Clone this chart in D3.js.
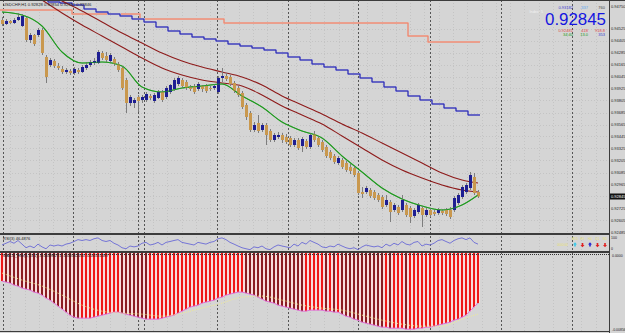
<!DOCTYPE html>
<html><head><meta charset="utf-8">
<script src="https://cdn.jsdelivr.net/npm/d3@7"></script>
<style>
html,body{margin:0;padding:0;background:#d5d5d5;overflow:hidden}
svg{display:block;font-family:"Liberation Sans",Arial,sans-serif}
</style></head><body>
<svg width="625" height="333"></svg>
<script>
// USDCHF H1 candles, one per bar (oldest first)
const opens = [0.9461,0.9457,0.9460,0.9458,0.9461,0.9455,0.9463,0.9441,0.9446,0.9446,
0.9451,0.9424,0.9416,0.9420,0.9415,0.9412,0.9409,0.9410,0.9408,0.9411,
0.9409,0.9413,0.9416,0.9418,0.9418,0.9428,0.9425,0.9420,0.9422,0.9417,
0.9413,0.9401,0.9378,0.9378,0.9384,0.9381,0.9381,0.9385,0.9380,0.9383,
0.9389,0.9384,0.9389,0.9392,0.9397,0.9401,0.9399,0.9394,0.9395,0.9392,
0.9395,0.9395,0.9393,0.9393,0.9389,0.9403,0.9405,0.9404,0.9398,0.9393,
0.9388,0.9376,0.9368,0.9351,0.9358,0.9351,0.9356,0.9350,0.9341,0.9344,
0.9346,0.9344,0.9343,0.9336,0.9341,0.9335,0.9340,0.9334,0.9347,0.9343,
0.9339,0.9334,0.9329,0.9325,0.9318,0.9321,0.9318,0.9314,0.9313,0.9308,
0.9289,0.9289,0.9291,0.9289,0.9286,0.9284,0.9276,0.9279,0.9271,0.9274,
0.9271,0.9276,0.9273,0.9265,0.9269,0.9273,0.9266,0.9271,0.9269,0.9268,
0.9270,0.9271,0.9271,0.9271,0.9278,0.9284,0.9289,0.9293,0.9304,0.9289];
const highs = [0.9464,0.9462,0.9461,0.9463,0.9468,0.9467,0.9464,0.9448,0.9447,0.9453,
0.9453,0.9426,0.9423,0.9422,0.9418,0.9415,0.9413,0.9412,0.9414,0.9413,
0.9416,0.9419,0.9421,0.9423,0.9431,0.9430,0.9429,0.9428,0.9424,0.9419,
0.9415,0.9403,0.9386,0.9383,0.9386,0.9386,0.9389,0.9387,0.9388,0.9391,
0.9391,0.9395,0.9397,0.9403,0.9405,0.9403,0.9401,0.9396,0.9397,0.9399,
0.9396,0.9397,0.9395,0.9397,0.9405,0.9413,0.9408,0.9406,0.9400,0.9395,
0.9390,0.9378,0.9370,0.9359,0.9366,0.9358,0.9358,0.9352,0.9348,0.9349,
0.9348,0.9347,0.9345,0.9343,0.9343,0.9344,0.9342,0.9348,0.9350,0.9345,
0.9341,0.9336,0.9331,0.9327,0.9325,0.9323,0.9320,0.9317,0.9315,0.9310,
0.9294,0.9295,0.9293,0.9291,0.9288,0.9286,0.9286,0.9281,0.9278,0.9276,
0.9286,0.9278,0.9275,0.9273,0.9278,0.9275,0.9273,0.9273,0.9271,0.9273,
0.9272,0.9273,0.9274,0.9285,0.9288,0.9296,0.9298,0.9309,0.9308,0.9291];
const lows = [0.9455,0.9456,0.9457,0.9457,0.9460,0.9454,0.9439,0.9438,0.9435,0.9444,
0.9426,0.9398,0.9414,0.9413,0.9411,0.9407,0.9407,0.9406,0.9406,0.9407,
0.9408,0.9411,0.9414,0.9416,0.9417,0.9421,0.9419,0.9418,0.9415,0.9409,
0.9391,0.9368,0.9375,0.9373,0.9369,0.9378,0.9379,0.9381,0.9378,0.9382,
0.9379,0.9382,0.9387,0.9390,0.9395,0.9393,0.9391,0.9390,0.9387,0.9390,
0.9389,0.9388,0.9390,0.9391,0.9387,0.9399,0.9400,0.9395,0.9388,0.9384,
0.9372,0.9361,0.9349,0.9349,0.9348,0.9349,0.9336,0.9339,0.9339,0.9342,
0.9338,0.9337,0.9334,0.9334,0.9331,0.9329,0.9332,0.9332,0.9339,0.9334,
0.9329,0.9323,0.9321,0.9317,0.9316,0.9312,0.9309,0.9307,0.9304,0.9286,
0.9283,0.9287,0.9283,0.9281,0.9279,0.9272,0.9274,0.9259,0.9269,0.9266,
0.9269,0.9264,0.9258,0.9263,0.9267,0.9254,0.9264,0.9264,0.9265,0.9266,
0.9266,0.9265,0.9262,0.9269,0.9276,0.9282,0.9287,0.9291,0.9286,0.9283];
const closes = [0.9457,0.9460,0.9458,0.9461,0.9464,0.9465,0.9441,0.9446,0.9437,0.9451,
0.9428,0.9404,0.9421,0.9415,0.9413,0.9409,0.9411,0.9408,0.9412,0.9409,
0.9414,0.9416,0.9419,0.9420,0.9429,0.9423,0.9421,0.9426,0.9417,0.9411,
0.9393,0.9378,0.9384,0.9381,0.9380,0.9384,0.9387,0.9383,0.9386,0.9389,
0.9381,0.9393,0.9396,0.9401,0.9403,0.9395,0.9393,0.9392,0.9389,0.9397,
0.9392,0.9390,0.9392,0.9395,0.9403,0.9405,0.9402,0.9397,0.9390,0.9386,
0.9374,0.9364,0.9351,0.9356,0.9350,0.9356,0.9346,0.9341,0.9346,0.9346,
0.9341,0.9339,0.9336,0.9341,0.9333,0.9342,0.9334,0.9346,0.9341,0.9336,
0.9331,0.9325,0.9323,0.9319,0.9323,0.9314,0.9311,0.9310,0.9306,0.9288,
0.9287,0.9293,0.9285,0.9283,0.9281,0.9274,0.9281,0.9269,0.9276,0.9268,
0.9281,0.9266,0.9264,0.9271,0.9276,0.9266,0.9271,0.9266,0.9267,0.9271,
0.9268,0.9267,0.9264,0.9283,0.9286,0.9294,0.9296,0.9306,0.9288,0.92845];

// moving averages, sampled every 5 bars
const maBars = [0,5,10,15,20,25,30,35,40,45,50,55,60,65,70,75,80,85,90,95,100,105,110,115,119];
const maFast = [0.9469,0.9466,0.9455,0.9429,0.9418,0.9419,0.9415,0.9394,0.9389,0.9393,0.9395,0.9397,0.9385,
  0.9374,0.9359,0.9350,0.9343,0.9325,0.9309,0.9293,0.9282,0.9275,0.9271,0.9276,0.9286];
const maMid = [0.9509,0.9499,0.9490,0.9480,0.9470,0.9459,0.9448,0.9438,0.9428,0.9420,0.9414,0.9409,0.9404,
  0.9396,0.9385,0.9376,0.9367,0.9357,0.9348,0.9338,0.9328,0.9318,0.9308,0.9301,0.9298];
const maSlow = [0.9506,0.9493,0.9481,0.9468,0.9456,0.9445,0.9434,0.9423,0.9413,0.9406,0.9401,0.9398,0.9395,
  0.9386,0.9375,0.9366,0.9357,0.9345,0.9333,0.9321,0.9311,0.9303,0.9296,0.9291,0.9289];

// higher timeframe average, one level per 3 bars
const htfLevels = [0.9489,0.9487,0.9484,0.9481,0.9479,0.9478,0.9476,0.9472,0.9469,0.9467,
  0.9465,0.9462,0.9459,0.9454,0.9450,0.9447,0.9444,0.9442,0.9440,0.9437,
  0.9435,0.9433,0.9431,0.9428,0.9424,0.9421,0.9417,0.9414,0.9411,0.9407,
  0.9403,0.9399,0.9394,0.9390,0.9385,0.9381,0.9377,0.9373,0.9370,0.9366];

// daily level (salmon line)
const levelStart = [0, 18, 35, 56, 102, 107];
const levelValue = [0.9471, 0.9467, 0.9462, 0.9458, 0.9445, 0.9439];

const priceTicks = [0.92485,0.92605,0.92725,0.92845,0.92965,0.93085,0.93205,0.93325,0.93445,
  0.93565,0.93685,0.93805,0.93925,0.94045,0.94165,0.94285,0.94405,0.94525];
const priceTop = 0.94750;

// RSI(3)
const rsi = [38,50,62,50,69,44,19,31,19,44, 25,12,38,31,38,31,44,50,62,75,
  69,75,69,81,87,69,62,69,50,38, 19,12,31,25,31,50,56,38,44,56,
  38,56,62,69,75,56,50,44,38,56, 50,44,56,62,81,87,75,56,44,31,
  19,12,6,25,19,31,12,6,25,38, 31,25,19,44,31,56,44,69,56,44,
  25,19,31,25,44,31,19,12,19,6, 25,38,31,25,31,19,44,31,50,38,
  62,44,38,56,62,31,44,38,50,69, 75,62,50,69,81,87,75,87,56,44];

// histogram window
const hist = [-0.00308,-0.00319,-0.00330,-0.00352,-0.00363,-0.00385,-0.00396,-0.00407,-0.00429,-0.00440,
-0.00462,-0.00495,-0.00517,-0.00550,-0.00583,-0.00616,-0.00649,-0.00682,-0.00704,-0.00715,
-0.00715,-0.00715,-0.00715,-0.00704,-0.00693,-0.00682,-0.00671,-0.00660,-0.00649,-0.00649,
-0.00660,-0.00671,-0.00682,-0.00693,-0.00704,-0.00715,-0.00726,-0.00726,-0.00726,-0.00726,
-0.00715,-0.00704,-0.00693,-0.00682,-0.00660,-0.00638,-0.00616,-0.00594,-0.00583,-0.00572,
-0.00550,-0.00539,-0.00528,-0.00517,-0.00495,-0.00484,-0.00462,-0.00451,-0.00440,-0.00429,
-0.00429,-0.00440,-0.00451,-0.00462,-0.00484,-0.00506,-0.00528,-0.00539,-0.00550,-0.00572,
-0.00583,-0.00594,-0.00605,-0.00616,-0.00627,-0.00638,-0.00638,-0.00627,-0.00627,-0.00627,
-0.00627,-0.00638,-0.00638,-0.00649,-0.00649,-0.00671,-0.00693,-0.00704,-0.00726,-0.00737,
-0.00759,-0.00770,-0.00781,-0.00792,-0.00803,-0.00814,-0.00814,-0.00825,-0.00825,-0.00825,
-0.00825,-0.00836,-0.00836,-0.00836,-0.00825,-0.00825,-0.00814,-0.00814,-0.00803,-0.00792,
-0.00781,-0.00770,-0.00759,-0.00737,-0.00726,-0.00704,-0.00682,-0.00638,-0.00594,-0.00550];
const signal = [-0.00220,-0.00297,-0.00363,-0.00462,-0.00572,-0.00638,-0.00660,-0.00671,-0.00693,-0.00660,
  -0.00605,-0.00550,-0.00484,-0.00473,-0.00517,-0.00572,-0.00605,-0.00627,-0.00682,-0.00737,
  -0.00781,-0.00803,-0.00803,-0.00726,-0.00671];

// period separators, in bars
const separators = [0.25, 17.75, 34, 35.5, 53.75, 71.5, 89, 107, 124.75, 142.5];

const svg = d3.select("svg");
const W = 625, H = 333, axisX = 609;
const mainB = 233, rsiT = 235, rsiB = 251, histT = 253, histB = 331;

const x = d3.scaleLinear().domain([0, 119]).range([2, 478]);
const y = d3.scaleLinear().domain([0.9248, 0.9481]).range([mainB, 0]);
const yRsi = d3.scaleLinear().domain([0, 100]).range([rsiB - 0.5, rsiT + 1]);
const yHist = d3.scaleLinear().domain([-0.00856, 0]).range([histB, histT]);

svg.append("rect").attr("width", W).attr("height", H).attr("fill", "#d5d5d5");

const defs = svg.append("defs");
function clip(id, top, bottom) {
  defs.append("clipPath").attr("id", id).append("rect")
    .attr("x", 0).attr("y", top).attr("width", axisX).attr("height", bottom - top);
}
clip("cMain", 0, mainB); clip("cRsi", rsiT, rsiB); clip("cHist", histT, histB);

// grid
const grid = svg.append("g");
grid.selectAll("line.h").data(priceTicks).enter().append("line")
  .attr("x1", 0).attr("x2", axisX)
  .attr("y1", d => Math.round(y(d)) + 0.5).attr("y2", d => Math.round(y(d)) + 0.5)
  .attr("stroke", "#c4c4c4").attr("stroke-dasharray", "1,2");
const vgrid = d3.range(-1.5, 150, 3.57);
grid.selectAll("line.v").data(vgrid).enter().append("line")
  .attr("x1", d => Math.round(x(d)) + 0.5).attr("x2", d => Math.round(x(d)) + 0.5)
  .attr("y1", 0).attr("y2", histB)
  .attr("stroke", "#c4c4c4").attr("stroke-dasharray", "1,2");
grid.selectAll("line.s").data(separators).enter().append("line")
  .attr("x1", d => Math.round(x(d)) + 0.5).attr("x2", d => Math.round(x(d)) + 0.5)
  .attr("y1", 0).attr("y2", histB)
  .attr("stroke", "#555").attr("stroke-dasharray", "2,2");

// main window
const gMain = svg.append("g").attr("clip-path", "url(#cMain)");

const stepLine = d3.line().x(d => d[0]).y(d => y(d[1])).curve(d3.curveStepAfter);
const lvlPts = levelStart.map((b, k) => [x(b) - 2, levelValue[k]]);
lvlPts.push([x(120) - 2, levelValue[levelValue.length - 1]]);
gMain.append("path").attr("d", stepLine(lvlPts)).attr("fill", "none")
  .attr("stroke", "#efb8aa").attr("stroke-width", 1.8);
gMain.append("path").attr("d", stepLine(lvlPts)).attr("fill", "none")
  .attr("stroke", "#e5806a").attr("stroke-width", 0.9);

const htfPts = htfLevels.map((v, k) => [x(3 * k) - 2, v]);
htfPts.push([x(120) - 2, htfLevels[htfLevels.length - 1]]);
gMain.append("path").attr("d", stepLine(htfPts)).attr("fill", "none")
  .attr("stroke", "#aaaae4").attr("stroke-width", 1.9);
gMain.append("path").attr("d", stepLine(htfPts)).attr("fill", "none")
  .attr("stroke", "#2020a4").attr("stroke-width", 1);

const maLine = d3.line().x((d, k) => x(maBars[k])).y(d => y(d)).curve(d3.curveMonotoneX);
[[maMid, "#8e1b1b"], [maSlow, "#8e1b1b"], [maFast, "#1f9a1f"]].forEach(([s, c]) => {
  gMain.append("path").attr("d", maLine(s)).attr("fill", "none")
    .attr("stroke", c).attr("stroke-width", 1.1);
});

const candles = gMain.append("g");
d3.range(closes.length).forEach(i => {
  const cx = Math.round(x(i));
  const up = closes[i] >= opens[i];
  candles.append("line")
    .attr("x1", cx + 0.5).attr("x2", cx + 0.5)
    .attr("y1", y(highs[i])).attr("y2", y(lows[i]))
    .attr("stroke", "#7d7d7d").attr("stroke-width", 1);
  const top = y(Math.max(opens[i], closes[i]));
  const bot = y(Math.min(opens[i], closes[i]));
  candles.append("rect")
    .attr("x", cx - 1).attr("y", top).attr("width", 3).attr("height", Math.max(1, bot - top))
    .attr("fill", up ? "#1e1e92" : "#c9984e");
});

// fast MA again over the candles, thin
gMain.append("path").attr("d", maLine(maFast)).attr("fill", "none")
  .attr("stroke", "#1f9a1f").attr("stroke-width", 0.8).attr("opacity", 0.8);

// header text
svg.append("text").attr("x", 3).attr("y", 6).attr("font-size", 4.2).attr("fill", "#222")
  .text("USDCHF,H1  0.92828 0.92854 0.92811 0.92846");

// info panel
function t(xp, yp, s, c, fs, anchor) {
  return svg.append("text").attr("x", xp).attr("y", yp).attr("font-size", fs || 4)
    .attr("fill", c).attr("text-anchor", anchor || "end").text(s);
}
t(573, 9, "0.93182", "#3a3ad0");
t(588, 9, "-337", "#5aa6f0");
t(605, 9, "760", "#444");
t(543, 13, "Index: 5", "#f2f2f2", 3.8);
svg.append("text").attr("x", 545).attr("y", 24.6).attr("font-size", 16.3)
  .attr("textLength", 61).attr("lengthAdjust", "spacingAndGlyphs")
  .attr("fill", "#1515e0").text("0.92845");
t(573, 31.6, "0.92481", "#e04848");
t(588, 31.6, "418", "#e04848");
t(605, 31.6, "918.8", "#e04848");
t(573, 36.3, "34:40", "#239a23");
t(588, 36.3, "13.0", "#239a23");
t(605, 36.3, "353", "#3a3ad0");

// right price axis
const axis = svg.append("g").attr("font-size", 4).attr("fill", "#222");
axis.selectAll("text").data(priceTicks).enter().append("text")
  .attr("x", 611).attr("y", d => y(d) + 1.5).text(d => d3.format(".5f")(d));
axis.append("text").attr("x", 611).attr("y", y(priceTop) + 1.5).text(d3.format(".5f")(priceTop));
const last = closes[closes.length - 1];
svg.append("rect").attr("x", 609.5).attr("y", y(last) - 3).attr("width", 15.5).attr("height", 6).attr("fill", "#111");
svg.append("text").attr("x", 611).attr("y", y(last) + 1.6).attr("font-size", 4).attr("fill", "#fff")
  .text(d3.format(".5f")(last));

// RSI window
const gRsi = svg.append("g").attr("clip-path", "url(#cRsi)");
gRsi.append("path")
  .attr("d", d3.line().x((d, i) => x(i)).y(d => yRsi(d))(rsi))
  .attr("fill", "none").attr("stroke", "#6a6ad6").attr("stroke-width", 0.9);
svg.append("text").attr("x", 3).attr("y", 240).attr("font-size", 4).attr("fill", "#222")
  .text("RSI(3) 46.4876");

const tfLabels = ["M15", "H1", "H4", "D1", "W1"];
const tfColors = ["#3cc8e8", "#e02020", "#2424d0", "#e02020", "#e02020"];
const tfUp = [true, false, true, false, false];
tfLabels.forEach((s, k) => {
  const ax = 575 + k * 7.5;
  svg.append("text").attr("x", ax).attr("y", 240).attr("font-size", 3).attr("fill", "#e8e070")
    .attr("text-anchor", "middle").text(s);
  svg.append("path").attr("transform", `translate(${ax},${tfUp[k] ? 244.5 : 245}) rotate(${tfUp[k] ? 0 : 180})`)
    .attr("d", "M0,-2.2L2,0H0.8V2H-0.8V0H-2Z").attr("fill", tfColors[k]);
});
svg.append("text").attr("x", 568).attr("y", 245.5).attr("font-size", 3).attr("fill", "#e8e070")
  .attr("text-anchor", "end").text("0000:00");
svg.append("text").attr("x", 611).attr("y", 239).attr("font-size", 3.5).attr("fill", "#222").text("100");
svg.append("text").attr("x", 611).attr("y", 250).attr("font-size", 3.5).attr("fill", "#222").text("0");

// histogram window
const gHist = svg.append("g").attr("clip-path", "url(#cHist)");
hist.forEach((v, i) => {
  const cx = Math.round(x(i));
  const deeper = i > 0 && v < hist[i - 1];
  gHist.append("rect").attr("x", cx - 2).attr("y", yHist(0)).attr("width", 4)
    .attr("height", yHist(v) - yHist(0)).attr("fill", "#f8dcdc");
  gHist.append("rect").attr("x", cx - 1).attr("y", yHist(0)).attr("width", 2)
    .attr("height", yHist(v) - yHist(0)).attr("fill", deeper ? "#8a1c22" : "#ee1818");
});
gHist.append("path")
  .attr("d", d3.line().x((d, i) => x(i)).y(d => yHist(d))(hist))
  .attr("fill", "none").attr("stroke", "#e070d8").attr("stroke-width", 1);
gHist.append("path")
  .attr("d", d3.line().x((d, k) => x(maBars[k])).y(d => yHist(d)).curve(d3.curveMonotoneX)(signal))
  .attr("fill", "none").attr("stroke", "#f0ec90").attr("stroke-width", 0.9).attr("stroke-dasharray", "1,1");
svg.append("line").attr("x1", 0).attr("x2", axisX).attr("y1", histT + 1.5).attr("y2", histT + 1.5)
  .attr("stroke", "#333").attr("stroke-dasharray", "1,1");
svg.append("text").attr("x", 3).attr("y", 257).attr("font-size", 4).attr("fill", "#222")
  .text("MACD_Hist(5,13,1) -0.00498271 -0.00562105 -0.00531487");
svg.append("text").attr("x", 612).attr("y", 256.5).attr("font-size", 3.5).attr("fill", "#222").text("0.0000");
svg.append("text").attr("x", 612).attr("y", 331).attr("font-size", 3.5).attr("fill", "#222").text("-0.00856");

// window frames
const frame = svg.append("g").attr("stroke", "#3c3c3c");
frame.append("line").attr("x1", 0).attr("x2", W).attr("y1", 0.5).attr("y2", 0.5);
[mainB + 0.5, rsiT - 0.5, rsiB + 0.5, histT - 0.5].forEach(v => {
  frame.append("line").attr("x1", 0).attr("x2", axisX).attr("y1", v).attr("y2", v);
});
frame.append("line").attr("x1", 0).attr("x2", axisX).attr("y1", histB + 0.5).attr("y2", histB + 0.5);
frame.append("line").attr("x1", axisX + 0.5).attr("x2", axisX + 0.5).attr("y1", 0).attr("y2", H);
</script>
</body></html>
